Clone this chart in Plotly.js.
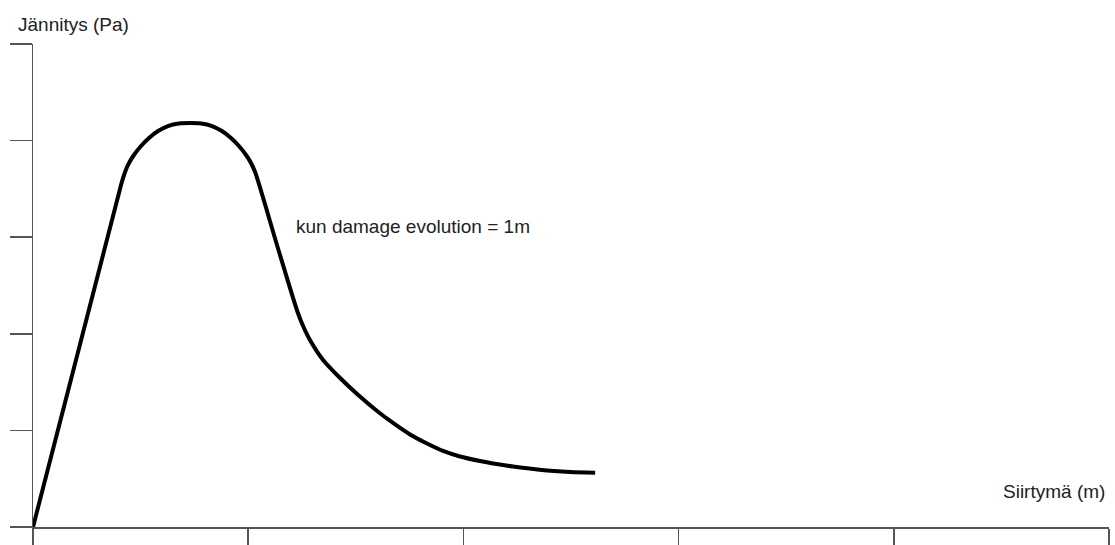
<!DOCTYPE html>
<html>
<head>
<meta charset="utf-8">
<script src="https://cdn.plot.ly/plotly-3.0.1.min.js"></script>
<style>
  html, body { margin: 0; padding: 0; background: #fff; }
  #chart { width: 1115px; height: 545px; }
</style>
</head>
<body>
<div id="chart"></div>
<script>
// Stress–displacement curve (damage evolution = 1 m)
const displacement = [0, 0.409, 0.423, 0.441, 0.469, 0.502, 0.539, 0.581, 0.627, 0.678,
  0.730, 0.781, 0.832, 0.878, 0.920, 0.957, 0.990, 1.013, 1.032, 1.138,
  1.231, 1.255, 1.287, 1.348, 1.427, 1.506, 1.599, 1.673, 1.752, 1.831,
  1.905, 1.984, 2.077, 2.138, 2.230, 2.388, 2.495, 2.612];
const stress = [0, 3.540, 3.644, 3.747, 3.851, 3.944, 4.027, 4.099, 4.151, 4.177,
  4.182, 4.177, 4.151, 4.099, 4.027, 3.944, 3.851, 3.768, 3.675, 2.888,
  2.215, 2.081, 1.936, 1.729, 1.542, 1.377, 1.201, 1.077, 0.958, 0.864,
  0.787, 0.730, 0.683, 0.657, 0.626, 0.585, 0.569, 0.562];
const xTicks = [0, 1, 2, 3, 4, 5];
const yTicks = [0, 1, 2, 3, 4, 5];

const yTitle = 'Jännitys (Pa)';
const xTitle = 'Siirtymä (m)';
const curveNote = 'kun damage evolution = 1m';

const axisColor = '#555';
const textFont = { family: 'Liberation Sans, Arial, sans-serif', size: 19, color: '#222' };

const trace = {
  x: displacement,
  y: stress,
  type: 'scatter',
  mode: 'lines',
  line: { color: '#000', width: 4, shape: 'spline', smoothing: 0.8 },
  hoverinfo: 'skip'
};

const axisBase = {
  showgrid: false,
  zeroline: false,
  showline: true,
  linecolor: axisColor,
  linewidth: 1.5,
  ticks: 'outside',
  tickcolor: axisColor,
  tickwidth: 1.5,
  showticklabels: false,
  automargin: false,
  fixedrange: true
};

const layout = {
  width: 1115,
  height: 545,
  margin: { l: 33, r: 6, t: 44, b: 18, pad: 0 },
  paper_bgcolor: '#fff',
  plot_bgcolor: '#fff',
  showlegend: false,
  font: textFont,
  xaxis: Object.assign({}, axisBase, {
    range: [0, 5], tickmode: 'array', tickvals: xTicks, ticklen: 18
  }),
  yaxis: Object.assign({}, axisBase, {
    range: [0, 5], tickmode: 'array', tickvals: yTicks, ticklen: 22
  }),
  annotations: [
    { text: yTitle, xref: 'paper', yref: 'paper', x: -0.0158, y: 1.0414,
      xanchor: 'left', yanchor: 'middle', showarrow: false, font: textFont },
    { text: xTitle, xref: 'paper', yref: 'paper', x: 0.998, y: 0.0745,
      xanchor: 'right', yanchor: 'middle', showarrow: false, font: textFont },
    { text: curveNote, xref: 'paper', yref: 'paper', x: 0.2426, y: 0.622,
      xanchor: 'left', yanchor: 'middle', showarrow: false, font: textFont }
  ]
};

Plotly.newPlot('chart', [trace], layout, { displayModeBar: false, staticPlot: true });
</script>
</body>
</html>
